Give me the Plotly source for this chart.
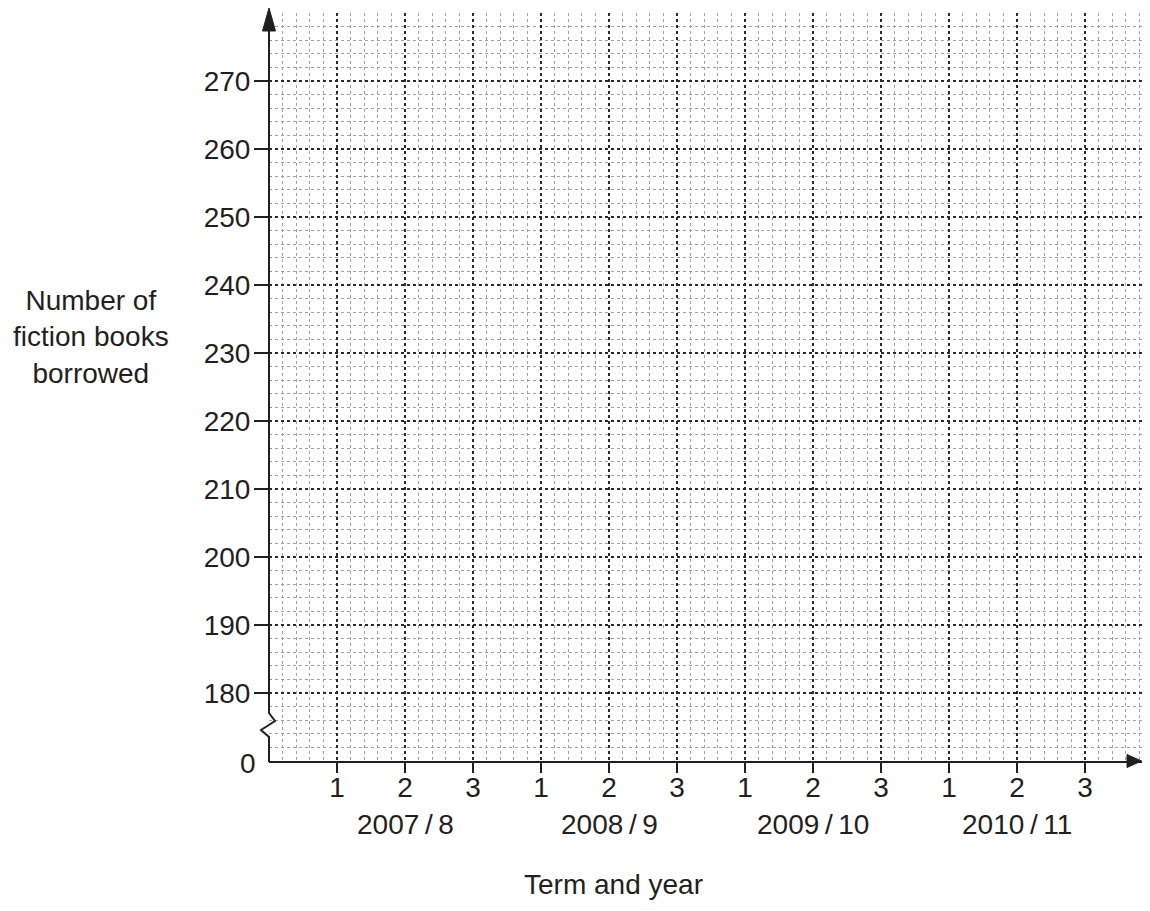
import plotly.graph_objects as go

# ---- data (empty grid: only axis categories and tick labels) ----
term_labels = ["1", "2", "3", "1", "2", "3", "1", "2", "3", "1", "2", "3"]
year_labels = ["2007\u2009/\u20098", "2008\u2009/\u20099", "2009\u2009/\u200910", "2010\u2009/\u200911"]
y_tick_values = [180, 190, 200, 210, 220, 230, 240, 250, 260, 270]
y_break_label = "0"
y_title = "Number of<br>fiction books<br>borrowed"
x_title = "Term and year"

INK = "#231f20"
FONT = "Liberation Sans, Arial, Helvetica, sans-serif"
FS = 28

OFF = 8  # page body margin
FW, FH = 1150 - 2 * OFF, 911 - 2 * OFF
# plot-area geometry (page pixels)
L, R, T, B = 269, 1150 - OFF, 13, 761
def px_x(p):
    return (p - L) / (R - L)
def px_y(p):
    return (B - p) / (B - T)

term_pos = list(range(1, len(term_labels) + 1))
x_max = (R - L) / 68.0
y_min, y_max = 170, 280

fig = go.Figure()
fig.add_trace(go.Scatter(x=[], y=[], mode="markers", showlegend=False))

fig.update_layout(
    width=FW, height=FH,
    margin=dict(l=L - OFF, r=FW - (R - OFF), t=T - OFF, b=FH - (B - OFF), pad=0),
    paper_bgcolor="white", plot_bgcolor="white",
    font=dict(family=FONT, size=FS, color=INK),
    showlegend=False,
)

fig.update_xaxes(
    range=[0, x_max], tickmode="array", tickvals=term_pos, ticktext=term_labels,
    ticks="outside", ticklen=10, tickwidth=2, tickcolor=INK, ticklabelstandoff=-10,
    showgrid=True, gridcolor="#2a2a2a", gridwidth=1.8, griddash="dot",
    minor=dict(tickmode="linear", tick0=0, dtick=0.2, showgrid=True,
               gridcolor="#a0a0a0", gridwidth=1, griddash="dot"),
    showline=True, linecolor=INK, linewidth=2, zeroline=False,
    tickfont=dict(size=FS, family=FONT, color=INK),
)
fig.update_yaxes(
    range=[y_min, y_max], tickmode="array", tickvals=y_tick_values,
    ticktext=[str(v) for v in y_tick_values],
    ticks="outside", ticklen=14, tickwidth=2, tickcolor=INK, ticklabelstandoff=-2,
    showgrid=True, gridcolor="#2a2a2a", gridwidth=1.8, griddash="dot",
    minor=dict(tickmode="linear", tick0=170, dtick=2, showgrid=True,
               gridcolor="#a0a0a0", gridwidth=1, griddash="dot"),
    showline=False, zeroline=False,
    tickfont=dict(size=FS, family=FONT, color=INK),
)

# y axis line with break zigzag, and arrowheads
axis_path = (f"M {px_x(269)},{px_y(762)} L {px_x(269)},{px_y(737)} "
             f"L {px_x(261)},{px_y(730)} L {px_x(275)},{px_y(721)} "
             f"L {px_x(269)},{px_y(713)} L {px_x(269)},{px_y(28)}")
fig.add_shape(type="path", path=axis_path, xref="paper", yref="paper",
              line=dict(color=INK, width=2))
fig.add_shape(type="path", xref="paper", yref="paper",
              path=f"M {px_x(262.5)},{px_y(31)} L {px_x(269)},{px_y(8)} L {px_x(275.5)},{px_y(31)} Z",
              fillcolor=INK, line=dict(color=INK, width=1))
fig.add_shape(type="path", xref="paper", yref="paper",
              path=f"M {px_x(R - 15)},{px_y(754.5)} L {px_x(R - 0.5)},{px_y(761)} L {px_x(R - 15)},{px_y(767.5)} Z",
              fillcolor=INK, line=dict(color=INK, width=1))

# "0" label at the broken axis origin
fig.add_annotation(x=px_x(258), y=px_y(763), xref="paper", yref="paper", text=y_break_label,
                   showarrow=False, xanchor="right", yanchor="middle",
                   font=dict(size=FS, family=FONT, color=INK))

# year group labels centred under the middle term
for i, lab in enumerate(year_labels):
    fig.add_annotation(x=term_pos[3 * i + 1], y=px_y(825), xref="x", yref="paper",
                       text=lab, showarrow=False, yanchor="middle",
                       font=dict(size=FS, family=FONT, color=INK))

fig.add_annotation(x=px_x(613), y=px_y(884), xref="paper", yref="paper", text=x_title,
                   showarrow=False, yanchor="middle",
                   font=dict(size=FS, family=FONT, color=INK))
fig.add_annotation(x=px_x(91), y=px_y(337), xref="paper", yref="paper", text=y_title,
                   showarrow=False, yanchor="middle", xanchor="center", align="center",
                   font=dict(size=FS, family=FONT, color=INK))

fig.write_html("out.html")
